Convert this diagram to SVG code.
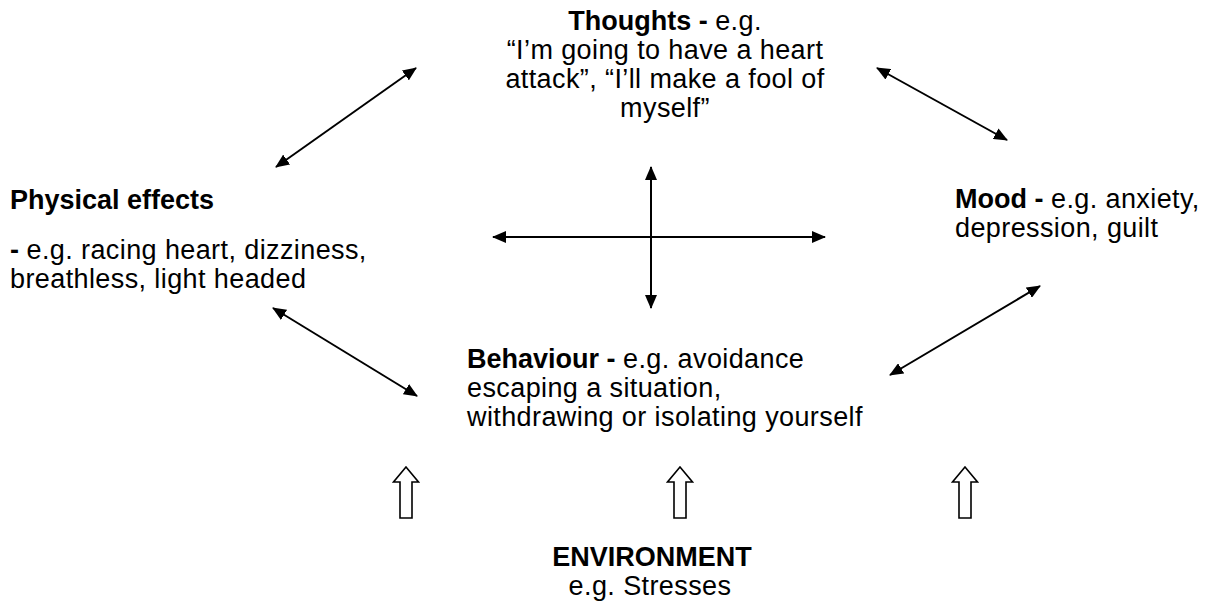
<svg xmlns="http://www.w3.org/2000/svg" width="1216" height="612" viewBox="0 0 1216 612">
<style>
text{font-family:"Liberation Sans",Arial,sans-serif;font-size:27px;fill:#000;letter-spacing:0.4px}
.b{font-weight:bold;letter-spacing:0}
.c{text-anchor:middle}
.ln{stroke:#000;stroke-width:2;fill:none;marker-start:url(#ah);marker-end:url(#ah)}
.blk{fill:#fff;stroke:#000;stroke-width:1.6;stroke-linejoin:miter}
</style>
<defs>
<marker id="ah" viewBox="0 0 14 12" refX="13" refY="6" markerWidth="14" markerHeight="12" markerUnits="userSpaceOnUse" orient="auto-start-reverse">
<path d="M0,0 L14,6 L0,12 z" fill="#000"/>
</marker>
</defs>
<rect width="1216" height="612" fill="#fff"/>
<g id="thoughts">
<text class="c" x="665" y="30"><tspan class="b">Thoughts - </tspan>e.g.</text>
<text class="c" x="665" y="59">“I’m going to have a heart</text>
<text class="c" x="665" y="88">attack”, “I’ll make a fool of</text>
<text class="c" x="665" y="117">myself”</text>
</g>
<g id="physical">
<text class="b" x="10" y="209">Physical effects</text>
<text x="10" y="259"><tspan class="b">- </tspan>e.g. racing heart, dizziness,</text>
<text x="10" y="288">breathless, light headed</text>
</g>
<g id="mood">
<text x="955" y="208"><tspan class="b">Mood - </tspan>e.g. anxiety,</text>
<text x="955" y="237">depression, guilt</text>
</g>
<g id="behaviour">
<text x="467" y="368"><tspan class="b">Behaviour - </tspan>e.g. avoidance</text>
<text x="467" y="397">escaping a situation,</text>
<text x="467" y="426">withdrawing or isolating yourself</text>
</g>
<g id="environment">
<text class="c b" x="652" y="566">ENVIRONMENT</text>
<text class="c" x="650" y="595">e.g. Stresses</text>
</g>
<g id="connectors">
<line class="ln" x1="276" y1="167" x2="416" y2="68"/>
<line class="ln" x1="877" y1="68" x2="1007" y2="140"/>
<line class="ln" x1="651" y1="167" x2="651" y2="308"/>
<line class="ln" x1="493" y1="237" x2="825" y2="237"/>
<line class="ln" x1="273" y1="308" x2="417" y2="396"/>
<line class="ln" x1="1040" y1="286" x2="890" y2="375"/>
<polygon class="blk" points="406,467 418.5,482 412,482 412,518 400,518 400,482 393.5,482"/>
<polygon class="blk" points="680,467 692.5,482 686,482 686,518 674,518 674,482 667.5,482"/>
<polygon class="blk" points="965,467 977.5,482 971,482 971,518 959,518 959,482 952.5,482"/>
</g>
</svg>
